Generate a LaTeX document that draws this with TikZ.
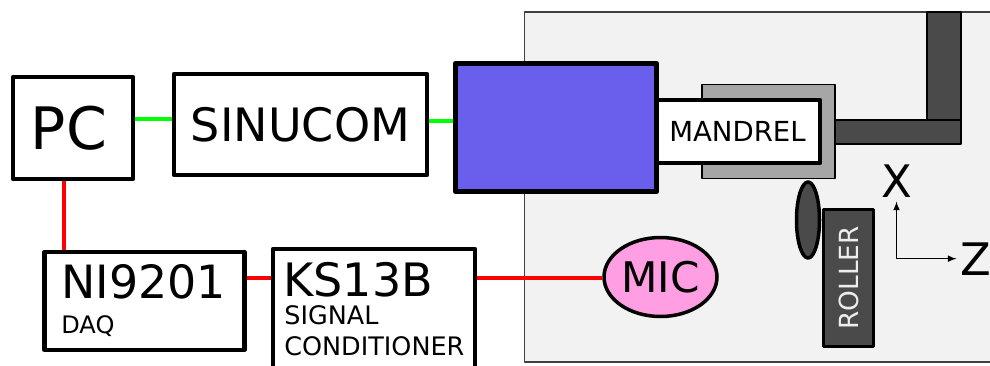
\documentclass[tikz,border=0pt]{standalone}
\usepackage{fontspec}
\setmainfont{DejaVu Sans}
\usepackage{tikz}
\usetikzlibrary{shapes.geometric}
\definecolor{panelgray}{HTML}{F2F2F2}
\definecolor{spindleblue}{HTML}{6A5FEC}
\definecolor{holdergray}{HTML}{A6A6A6}
\definecolor{armgray}{HTML}{4A4A4A}
\definecolor{micpink}{HTML}{FF9EE2}
\tikzset{
every node/.style={inner sep=0pt, line join=round},
block/.style={ % Sets the properties for each white box
draw, line width=2.6pt, fill=white},
steel/.style={ % Dark parts of the machine
draw, line width=0.9pt, fill=armgray},
label text/.style={anchor=base west, align=left},
signal/.style={line width=2pt, red}, % Microphone chain
power/.style={line width=2pt, green}}
\begin{document}
\begin{tikzpicture}[x=0.02cm, y=-0.02cm]
\clip (0,0) rectangle (990,365);
% machine
\node[draw=black!75, line width=0.7pt, fill=panelgray, minimum width=9.4cm, minimum height=7cm] (panel) at (759.5,187) {};
\node[steel, minimum width=0.68cm, minimum height=2.16cm] (armv) at (944,66) {};
\node[steel, minimum width=2.52cm, minimum height=0.48cm] (armh) at (898,132) {};
\node[draw, line width=0.9pt, fill=holdergray, minimum width=2.66cm, minimum height=1.88cm] (holder) at (768.5,131.5) {};
\node[block, minimum width=3.26cm, minimum height=1.26cm, font=\fontsize{15.7}{18}\selectfont] (mandrel) at (738.5,131.5) {\hspace{-0.04cm}MANDREL};
\node[draw, line width=3.3pt, fill=spindleblue, minimum width=4.02cm, minimum height=2.56cm] (spindle) at (556,127.5) {};
\node[draw, line width=2pt, fill=armgray, rotate=90, minimum width=2.74cm, minimum height=1cm, text=white!93!black, font=\fontsize{15}{18}\selectfont] (roller) at (848.5,278) {ROLLER};
\node[draw, ellipse, line width=2pt, fill=armgray, minimum width=0.46cm, minimum height=1.52cm] (wheel) at (808,220) {};
\node[draw, ellipse, line width=2pt, fill=micpink, minimum width=2.26cm, minimum height=1.58cm, font=\fontsize{24}{28}\selectfont] (mic) at (660.5,277) {MIC};
% boxes
\node[block, minimum width=2.4cm, minimum height=2.04cm, font=\fontsize{33.3}{38}\selectfont] (pc) at (73,128) {\hspace{-0.16cm}PC};
\node[block, minimum width=5.06cm, minimum height=2.02cm, font=\fontsize{26.2}{31}\selectfont] (sinucom) at (300.5,124.5) {SINUCOM};
\node[block, minimum width=3.99cm, minimum height=1.96cm] (ni) at (144.5,301) {};
\node[block, minimum width=4.04cm, minimum height=2.6cm] (ks) at (374,314) {};
\node[label text, font=\fontsize{26.1}{30}\selectfont] (nitext) at (61,298) {NI9201};
\node[label text, font=\fontsize{13.7}{16}\selectfont] (daq) at (61,333) {DAQ};
\node[label text, font=\fontsize{26.2}{30}\selectfont] (kstext) at (283,296) {KS13B};
\node[anchor=north west, align=left, font=\fontsize{14.5}{17.6}\selectfont] (sc) at (284,305) {SIGNAL\\CONDITIONER};
% wires
\draw[power] (pc.east |- 0,119) -- (sinucom.west |- 0,119);
\draw[power] (sinucom.east |- 0,121) -- (spindle.west |- 0,121);
\draw[signal] ([xshift=-0.18cm]pc.south) -- ([xshift=-0.18cm]pc.south |- ni.north);
\draw[signal] (ni.east |- 0,278) -- (ks.west |- 0,278);
\draw[signal] (ks.east |- 0,278) -- (mic.west |- 0,278);
% axes
\node[inner sep=2pt, anchor=south, font=\fontsize{25.5}{30}\selectfont] (xaxis) at (896.5,201.5) {X};
\node[inner sep=2pt, anchor=base west, font=\fontsize{25.5}{30}\selectfont] (zaxis) at (956.5,275) {Z};
\draw[latex-latex, line width=0.7pt] (xaxis.south) |- (zaxis.west);
\end{tikzpicture}
\end{document}
